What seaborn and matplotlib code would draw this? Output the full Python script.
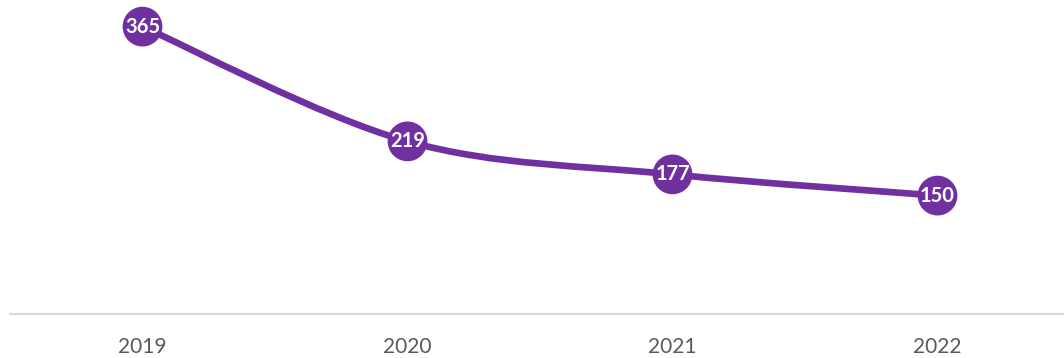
import numpy as np
import pandas as pd
import matplotlib
matplotlib.use("Agg")
import matplotlib.pyplot as plt
from matplotlib.path import Path
from matplotlib.patches import PathPatch
import seaborn as sns

years = ["2019", "2020", "2021", "2022"]
values = [365, 219, 177, 150]

PURPLE = "#7030A0"
TICK_GRAY = "#595959"
AXIS_GRAY = "#D9D9D9"

sns.set_theme(style="white")
plt.rcParams["font.family"] = ["Lato", "DejaVu Sans"]

df = pd.DataFrame({"year": years, "value": values})
df["pos"] = np.arange(len(df))

fig = plt.figure(figsize=(10.64, 3.58), dpi=100)
ax = fig.add_axes([10 / 1064, 44.5 / 358, 1060 / 1064, 314.4 / 358])

# Smoothed connecting line (Catmull-Rom segments as cubic Beziers)
pts = df[["pos", "value"]].to_numpy(dtype=float)
n = len(pts)
verts = [tuple(pts[0])]
codes = [Path.MOVETO]
for i in range(n - 1):
    p_prev = pts[i - 1] if i > 0 else pts[i]
    p0, p1 = pts[i], pts[i + 1]
    p_next = pts[i + 2] if i + 2 < n else pts[i + 1]
    c1 = p0 + (p1 - p_prev) / 6.0
    c2 = p1 - (p_next - p0) / 6.0
    verts += [tuple(c1), tuple(c2), tuple(p1)]
    codes += [Path.CURVE4] * 3
ax.add_patch(PathPatch(Path(verts, codes), facecolor="none", edgecolor=PURPLE,
                       lw=4.8, capstyle="round", joinstyle="round", zorder=2))

# Round markers holding the value labels
sns.scatterplot(data=df, x="pos", y="value", ax=ax, color=PURPLE, s=820,
                edgecolor="none", linewidth=0, zorder=3, legend=False)
for x, v in zip(df["pos"], df["value"]):
    ax.text(x, v, f"{v}", color="white", fontsize=14.5, fontweight="bold",
            ha="center", va="center", zorder=4)

ax.set_xlim(-0.5, len(years) - 0.5)
ax.set_ylim(0, 400)
ax.set_xticks(df["pos"])
ax.set_xticklabels(years, color=TICK_GRAY, fontsize=15)
ax.set_yticks([])
ax.set_xlabel("")
ax.set_ylabel("")
ax.tick_params(axis="x", length=0, pad=17)
for side in ("top", "left", "right"):
    ax.spines[side].set_visible(False)
ax.spines["bottom"].set_color(AXIS_GRAY)
ax.spines["bottom"].set_linewidth(1.5)
ax.patch.set_alpha(0)

fig.savefig("out.png", dpi=100, facecolor="white")
